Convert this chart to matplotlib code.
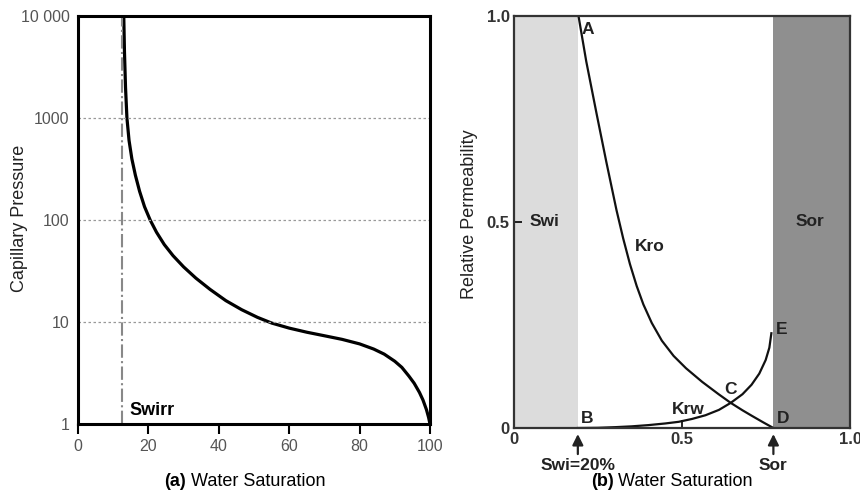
import matplotlib
matplotlib.use("Agg")
import matplotlib.pyplot as plt

plt.rcParams['font.family'] = ['Liberation Sans', 'DejaVu Sans']

# ---- data (a): capillary pressure curve ----
sw_pc = [13.0, 13.2, 13.5, 13.9, 14.5, 15.3, 16.3, 17.5, 18.9, 20.5, 22.3, 24.5, 27.0, 30.0,
         33.5, 37.5, 42.0, 46.5, 51.0, 55.0, 60.0, 65.0, 70.0, 75.0, 80.0, 84.0, 87.0, 90.0,
         92.0, 94.0, 95.5, 97.0, 98.0, 99.0, 99.6, 100.0]
pc = [10000, 4470, 2000, 1000, 603, 398, 275, 191, 135, 100, 75.9, 57.5, 44.7, 34.7,
      26.9, 20.9, 16.2, 13.2, 11.1, 9.77, 8.71, 7.94, 7.33, 6.76, 6.1, 5.43, 4.84, 4.12,
      3.59, 2.95, 2.51, 2.04, 1.72, 1.38, 1.16, 1.0]
swirr = 12.5
pc_ticks = [1, 10, 100, 1000, 10000]
pc_ticklabels = ['1', '10', '100', '1000', '10 000']
sw_ticks = [0, 20, 40, 60, 80, 100]

# ---- data (b): relative permeability ----
swi = 0.19
sor = 0.772
sw_kro = [0.192, 0.215, 0.246, 0.275, 0.305, 0.325, 0.345, 0.365, 0.385, 0.41, 0.44, 0.475,
          0.512, 0.56, 0.609, 0.645, 0.68, 0.707, 0.74, 0.772]
kro = [1.0, 0.89, 0.762, 0.645, 0.529, 0.46, 0.398, 0.345, 0.30, 0.255, 0.212, 0.175,
       0.145, 0.112, 0.082, 0.061, 0.043, 0.030, 0.0145, 0.0]
sw_krw = [0.19, 0.25, 0.30, 0.35, 0.40, 0.45, 0.49, 0.53, 0.57, 0.61, 0.645, 0.68, 0.707,
          0.73, 0.749, 0.76, 0.766]
krw = [0.0, 0.0005, 0.002, 0.004, 0.007, 0.011, 0.015, 0.022, 0.031, 0.044, 0.061, 0.082,
       0.105, 0.132, 0.165, 0.195, 0.23]
kr_ticks = [0, 0.5, 1.0]
kr_ticklabels = ['0', '0.5', '1.0']

W, H = 860, 495
fig = plt.figure(figsize=(W / 100, H / 100), dpi=100)

# ---------- panel (a) ----------
ax1 = fig.add_axes([78 / W, (H - 424) / H, 352 / W, 408 / H])
ax1.plot(sw_pc, pc, color='black', linewidth=2.3)
ax1.axvline(swirr, color='#888888', linestyle='-.', linewidth=1.5)
ax1.set_yscale('log')
ax1.set_xlim(0, 100)
ax1.set_ylim(1, 10000)
ax1.set_yticks(pc_ticks)
ax1.set_yticklabels(pc_ticklabels)
ax1.minorticks_off()
ax1.set_xticks(sw_ticks)
for v in [10, 100, 1000]:
    ax1.axhline(v, color='#999999', linestyle=(0, (2, 2)), linewidth=0.9)
for s in ax1.spines.values():
    s.set_linewidth(2.2)
ax1.tick_params(axis='x', direction='out', length=7, width=1.5, labelsize=11.5, labelcolor='#555555', pad=4)
ax1.tick_params(axis='y', length=0, labelsize=11.5, labelcolor='#555555', pad=6)
ax1.set_ylabel('Capillary Pressure', fontsize=13, color='#222222')
ax1.yaxis.set_label_coords(-0.142, 0.505)
ax1.text(14.5, 1.35, 'Swirr', fontsize=13, fontweight='bold', ha='left', va='center')
fig.text(186 / W, 1 - 481 / H, '(a)', fontsize=13, fontweight='bold', ha='right', va='center')
fig.text(191 / W, 1 - 481 / H, 'Water Saturation', fontsize=13, ha='left', va='center')

# ---------- panel (b) ----------
ax2 = fig.add_axes([514 / W, (H - 428) / H, 336 / W, 412 / H])
ax2.axvspan(0, swi, color='#dcdcdc', linewidth=0)
ax2.axvspan(sor, 1.0, color='#8f8f8f', linewidth=0)
ax2.plot(sw_kro, kro, color='#111111', linewidth=1.6)
ax2.plot(sw_krw, krw, color='#111111', linewidth=1.6)
ax2.set_xlim(0, 1.0)
ax2.set_ylim(0, 1.0)
ax2.set_xticks(kr_ticks)
ax2.set_xticklabels(kr_ticklabels)
ax2.set_yticks(kr_ticks)
ax2.set_yticklabels(kr_ticklabels)
for s in ax2.spines.values():
    s.set_linewidth(1.6)
    s.set_color('#333333')
ax2.tick_params(direction='in', length=6, width=1.2, labelsize=12, pad=3)
for lab in ax2.get_xticklabels() + ax2.get_yticklabels():
    lab.set_fontweight('bold')
    lab.set_color('#333333')
ax2.set_ylabel('Relative Permeability', fontsize=13, color='#222222')
ax2.yaxis.set_label_coords(-0.107, 0.52)

lbl = dict(fontsize=12.5, fontweight='bold', color='#222222')
ax2.text(0.09, 0.50, 'Swi', ha='center', va='center', **lbl)
ax2.text(0.88, 0.50, 'Sor', ha='center', va='center', **lbl)
ax2.text(0.36, 0.44, 'Kro', ha='left', va='center', **lbl)
ax2.text(0.47, 0.045, 'Krw', ha='left', va='center', **lbl)
ax2.text(0.20, 0.985, 'A', ha='left', va='top', **lbl)
ax2.text(0.20, 0.005, 'B', ha='left', va='bottom', **lbl)
ax2.text(0.645, 0.075, 'C', ha='center', va='bottom', **lbl)
ax2.text(0.782, 0.005, 'D', ha='left', va='bottom', **lbl)
ax2.text(0.78, 0.24, 'E', ha='left', va='center', **lbl)

for xv, name in [(swi, 'Swi=20%'), (sor, 'Sor')]:
    ax2.annotate('', xy=(xv, -0.008), xycoords=('data', 'axes fraction'),
                 xytext=(xv, -0.07), textcoords=('data', 'axes fraction'),
                 arrowprops=dict(arrowstyle='-|>', color='#222222', lw=1.6, mutation_scale=16),
                 annotation_clip=False)
    ax2.text(xv, -0.092, name, transform=ax2.get_xaxis_transform(), ha='center', va='center',
             clip_on=False, **lbl)

fig.text(614 / W, 1 - 481 / H, '(b)', fontsize=13, fontweight='bold', ha='right', va='center')
fig.text(618 / W, 1 - 481 / H, 'Water Saturation', fontsize=13, ha='left', va='center')

fig.savefig('out.png', dpi=100)
